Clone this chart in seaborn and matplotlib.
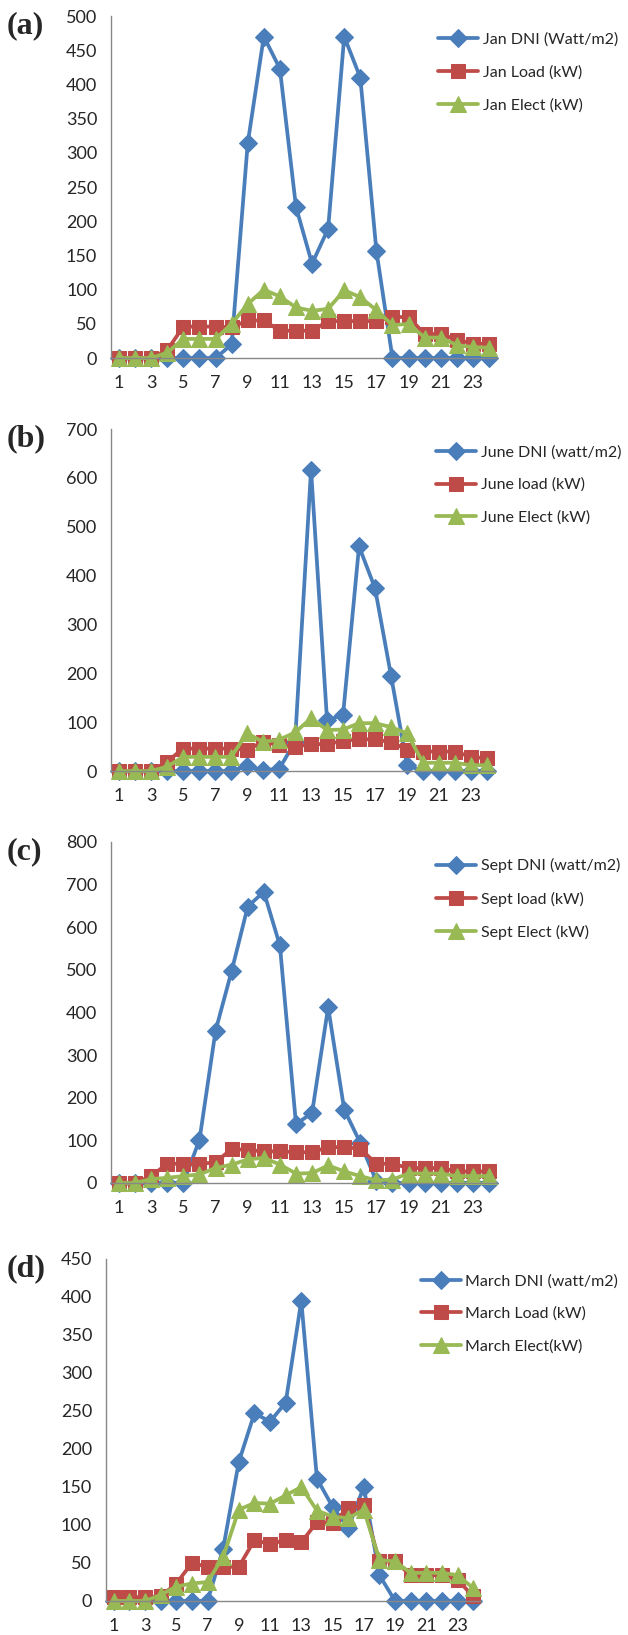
import matplotlib

matplotlib.use("Agg")
import matplotlib.pyplot as plt
import seaborn as sns
from matplotlib.ticker import FixedLocator

hours = list(range(1, 25))
tick_labels = [str(h) for h in range(1, 24, 2)]

jan_dni = [0, 0, 0, 0, 0, 0, 0, 20, 314, 470, 423, 221, 138, 189, 470, 410, 157, 0, 0, 0, 0, 0, 0, 0]
jan_load = [0, 0, 0, 12, 46, 46, 46, 45, 55, 55, 40, 40, 40, 54, 54, 54, 54, 60, 60, 35, 35, 27, 21, 21]
jan_elect = [0, 0, 0, 8, 28, 28, 28, 50, 79, 100, 90, 74, 69, 72, 99, 89, 70, 48, 50, 30, 30, 19, 16, 15]

june_dni = [0, 0, 0, 0, 0, 0, 0, 0, 10, 2, 4, 60, 617, 104, 115, 460, 374, 195, 12, 0, 0, 0, 0, 0]
june_load = [0, 0, 0, 19, 46, 46, 46, 46, 43, 60, 53, 50, 55, 55, 62, 65, 65, 59, 44, 40, 40, 40, 29, 26]
june_elect = [0, 0, 0, 9, 29, 29, 29, 29, 77, 60, 64, 79, 108, 84, 85, 98, 98, 90, 77, 17, 17, 17, 12, 12]

sept_dni = [0, 0, 0, 0, 0, 101, 357, 497, 648, 683, 557, 138, 164, 412, 172, 94, 4, 0, 0, 0, 0, 0, 0, 0]
sept_load = [0, 0, 16, 45, 45, 45, 48, 80, 77, 74, 74, 72, 72, 84, 84, 80, 45, 45, 35, 35, 35, 27, 27, 27]
sept_elect = [0, 0, 9, 12, 16, 20, 35, 43, 55, 59, 43, 22, 23, 41, 27, 16, 6, 8, 22, 22, 22, 16, 16, 16]

march_dni = [0, 0, 0, 0, 0, 0, 0, 69, 183, 247, 236, 261, 395, 161, 124, 96, 150, 34, 0, 0, 0, 0, 0, 0]
march_load = [5, 5, 5, 6, 23, 50, 45, 45, 45, 80, 75, 80, 77, 104, 103, 122, 126, 52, 52, 34, 34, 34, 28, 6]
march_elect = [0, 0, 0, 8, 19, 23, 25, 58, 120, 129, 128, 139, 150, 119, 111, 109, 120, 54, 52, 37, 37, 37, 34, 17]

panels = [
    ("(a)", [jan_dni, jan_load, jan_elect],
     ["Jan DNI (Watt/m2)", "Jan Load (kW)", "Jan Elect (kW)"], 500, 50,
     [0.1768, 0.7810, 0.6146, 0.2092], 0.698, 0.980),
    ("(b)", [june_dni, june_load, june_elect],
     ["June DNI (watt/m2)", "June load (kW)", "June Elect (kW)"], 700, 100,
     [0.1768, 0.5284, 0.6115, 0.2092], 0.694, 0.7278),
    ("(c)", [sept_dni, sept_load, sept_elect],
     ["Sept DNI (watt/m2)", "Sept load (kW)", "Sept Elect (kW)"], 800, 100,
     [0.1768, 0.2765, 0.6146, 0.2086], 0.695, 0.4752),
    ("(d)", [march_dni, march_load, march_elect],
     ["March DNI (watt/m2)", "March Load (kW)", "March Elect(kW)"], 450, 50,
     [0.1688, 0.0208, 0.5971, 0.2092], 0.670, 0.2208),
]

colors = ["#4A7EBB", "#BE4B48", "#98B954"]
markers = ["D", "s", "^"]
msizes = [9, 10.5, 11]

sns.set_style("white")
plt.rcParams["font.family"] = ["Lato", "DejaVu Sans"]

fig = plt.figure(figsize=(6.28, 16.35), dpi=100)

for tag, series, names, ymax, ystep, rect, leg_x, leg_y in panels:
    ax = fig.add_axes(rect)
    for vals, name, c, m, ms in zip(series, names, colors, markers, msizes):
        sns.lineplot(
            x=hours, y=vals, ax=ax, color=c, marker=m, markersize=ms,
            markeredgecolor=c, linewidth=2.7, label=name, clip_on=False,
        )
    ax.set_xlim(0.5, 24.5)
    ax.set_ylim(0, ymax)
    ax.set_yticks(list(range(0, ymax + 1, ystep)))
    ax.set_xticks(list(range(1, 24, 2)))
    ax.set_xticklabels(tick_labels)
    ax.xaxis.set_minor_locator(FixedLocator([h + 0.5 for h in range(0, 25)]))
    ax.tick_params(axis="x", which="major", length=0, pad=12, labelsize=13)
    ax.tick_params(axis="x", which="minor", length=5, color="#888888", direction="out")
    ax.tick_params(axis="y", length=5, color="#888888", direction="out", labelsize=13, pad=5)
    for s in ["top", "right"]:
        ax.spines[s].set_visible(False)
    for s in ["left", "bottom"]:
        ax.spines[s].set_color("#888888")
        ax.spines[s].set_linewidth(1.0)
    ax.set_xlabel("")
    ax.set_ylabel("")
    ax.get_legend().remove()
    handles, labels = ax.get_legend_handles_labels()
    fig.legend(
        handles, labels, loc="upper left", bbox_to_anchor=(leg_x, leg_y),
        frameon=False, fontsize=11.5, handlelength=2.5, handletextpad=0.3,
        labelspacing=1.15, borderpad=0, borderaxespad=0,
    )
    fig.text(
        0.010, rect[1] + rect[3] + 0.003, tag, fontsize=23, fontweight="bold",
        family="Liberation Serif", va="top", ha="left",
    )

fig.savefig("out.png", dpi=100)
